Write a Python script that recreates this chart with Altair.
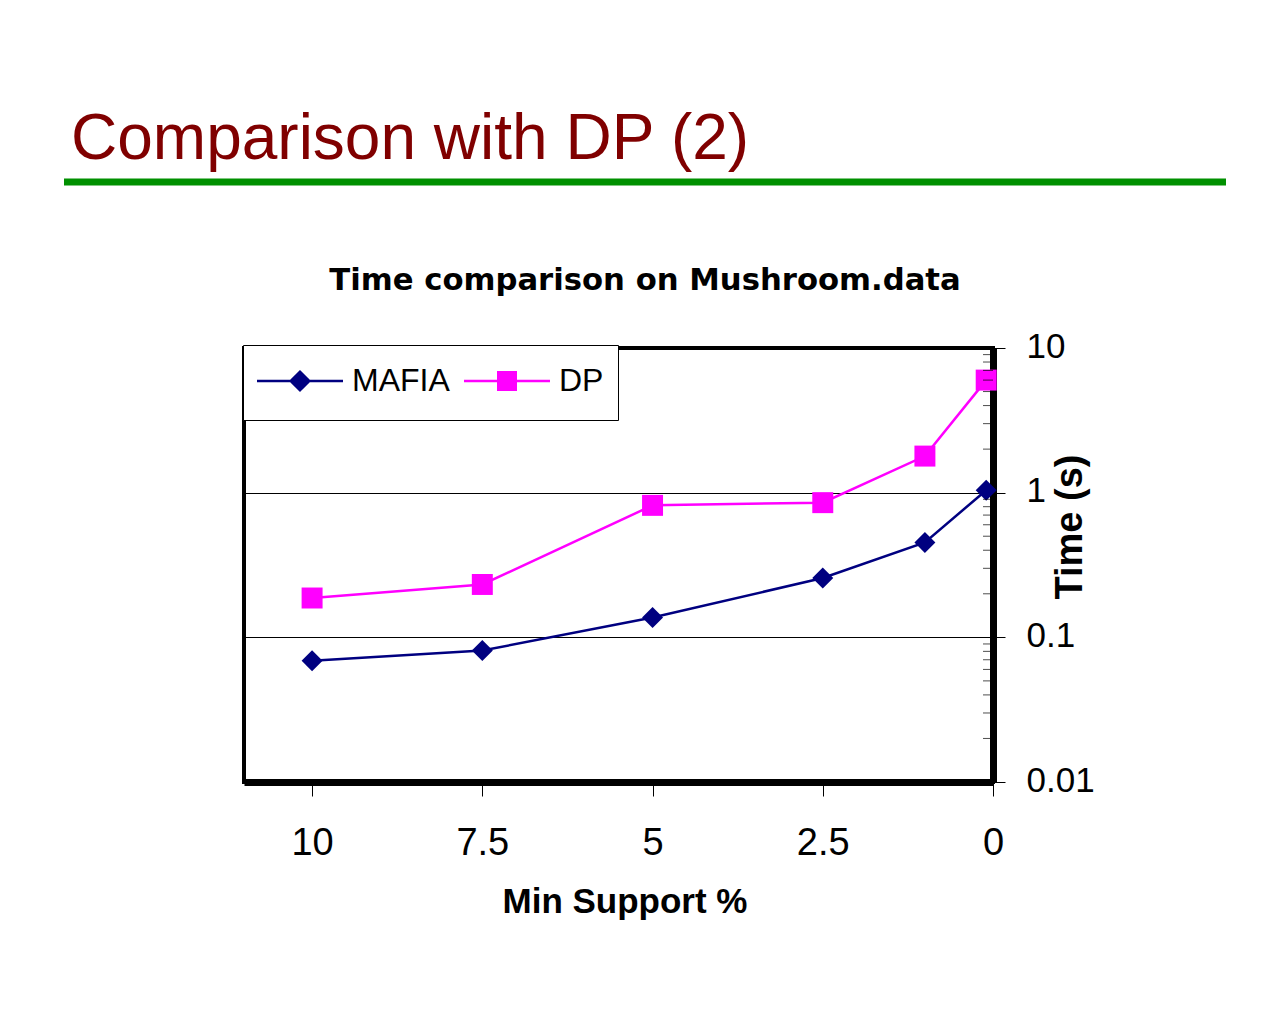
import altair as alt
import pandas as pd

# ---- data ----
support = [10, 7.5, 5, 2.5, 1, 0.1]
mafia = [0.069, 0.081, 0.137, 0.257, 0.453, 1.04]
dp = [0.187, 0.232, 0.817, 0.853, 1.79, 6.0]
series = ["MAFIA", "DP"]
colors = ["#000080", "#FF00FF"]
x_ticks = [10, 7.5, 5, 2.5, 0]
y_ticks = [0.01, 0.1, 1, 10]
minor_ticks = [m * d for d in (0.01, 0.1, 1) for m in range(2, 10)]

slide_title = "Comparison with DP (2)"
chart_title = "Time comparison on Mushroom.data"
x_title = "Min Support %"
y_title = "Time (s)"

df = pd.DataFrame({
    "support": support * 2,
    "time": mafia + dp,
    "series": ["MAFIA"] * len(support) + ["DP"] * len(support),
})
minor_df = pd.DataFrame({"v": minor_ticks})

FONT = "Liberation Sans"
W, H = 749, 434

xscale = alt.Scale(domain=[11, 0], nice=False, zero=False)
yscale = alt.Scale(type="log", domain=[0.01, 10], nice=False)
cscale = alt.Scale(domain=series, range=colors)

x_enc = alt.X("support:Q", scale=xscale,
              axis=alt.Axis(values=x_ticks, format="~g", title=None, orient="bottom",
                            grid=False, domainColor="black", domainWidth=7,
                            tickColor="black", tickSize=14, tickWidth=1,
                            labelFont=FONT, labelFontSize=38, labelColor="black",
                            labelBaseline="alphabetic", labelPadding=58,
                            labelFlush=False, labelOverlap=False))
y_enc = alt.Y("time:Q", scale=yscale,
              axis=alt.Axis(values=y_ticks, format="~g", title=None, orient="right",
                            grid=True, gridColor="black", gridWidth=1, gridOpacity=1,
                            domainColor="black", domainWidth=7,
                            tickColor="black", tickSize=12, tickWidth=1,
                            labelFont=FONT, labelFontSize=35, labelColor="black",
                            labelAlign="left", labelBaseline="middle", labelPadding=21,
                            labelOffset=-2,
                            labelFlush=False, labelOverlap=False))

base = alt.Chart(df)

lines = base.mark_line(strokeWidth=2.5).encode(
    x=x_enc, y=y_enc,
    color=alt.Color("series:N", scale=cscale, legend=None),
    detail="series:N",
)

points = base.mark_point(filled=True, size=440, opacity=1, strokeWidth=0).encode(
    x="support:Q", y="time:Q",
    color=alt.Color("series:N", scale=cscale, legend=None),
    shape=alt.Shape("series:N", scale=alt.Scale(domain=series, range=["diamond", "square"]),
                    legend=None),
)

# legend entries: line with marker (symbol unit = 22px, drawn wider than its slot)
leg_mafia = ("M-1,-0.0545L0.509,-0.0545L0.9545,-0.5L1.4,-0.0545L2.909,-0.0545"
             "L2.909,0.0545L1.4,0.0545L0.9545,0.5L0.509,0.0545L-1,0.0545Z")
leg_dp = ("M-1,-0.0545L0.5,-0.0545L0.5,-0.4545L1.409,-0.4545L1.409,-0.0545"
          "L2.909,-0.0545L2.909,0.0545L1.409,0.0545L1.409,0.4545L0.5,0.4545"
          "L0.5,0.0545L-1,0.0545Z")

legend_layer = base.transform_filter("false").mark_point(
    filled=True, size=1936, opacity=1, strokeWidth=0
).encode(
    x="support:Q", y="time:Q",
    color=alt.Color("series:N", scale=cscale,
                    legend=alt.Legend(title=" ", titleOrient="bottom", titleFontSize=5,
                                      titlePadding=4,
                                      orient="none", legendX=-1, legendY=-3,
                                      direction="horizontal", columns=2,
                                      strokeColor="black", fillColor="white",
                                      padding=14, labelFont=FONT, labelFontSize=32,
                                      labelColor="black", labelOffset=51,
                                      columnPadding=14, symbolSize=1936,
                                      symbolStrokeWidth=0, symbolOpacity=1)),
    shape=alt.Shape("series:N", scale=alt.Scale(domain=series, range=[leg_mafia, leg_dp])),
)

minor = alt.Chart(minor_df).mark_tick(orient="horizontal", thickness=1, size=10,
                                      color="black").encode(
    x=alt.value(744),
    y=alt.Y("v:Q", scale=yscale),
)

# titles and decoration
title_txt = alt.Chart(pd.DataFrame({"t": [slide_title]})).mark_text(
    align="left", baseline="alphabetic", font=FONT, fontSize=64, color="#800000"
).encode(x=alt.value(-173), y=alt.value(-189), text="t:N")

green = alt.Chart(pd.DataFrame({"a": [0]})).mark_rule(
    color="#009000", strokeWidth=7
).encode(x=alt.value(-180), x2=alt.value(982), y=alt.value(-166))

ctitle = alt.Chart(pd.DataFrame({"t": [chart_title]})).mark_text(
    align="center", baseline="alphabetic", font="DejaVu Sans", fontSize=30.7,
    fontWeight="bold", color="black"
).encode(x=alt.value(401), y=alt.value(-58), text="t:N")

xt = alt.Chart(pd.DataFrame({"t": [x_title]})).mark_text(
    align="center", baseline="alphabetic", font=FONT, fontSize=35, fontWeight="bold",
    color="black"
).encode(x=alt.value(381), y=alt.value(565), text="t:N")

yt = alt.Chart(pd.DataFrame({"t": [y_title]})).mark_text(
    align="center", baseline="alphabetic", font=FONT, fontSize=38, fontWeight="bold",
    color="black", angle=270
).encode(x=alt.value(838), y=alt.value(179), text="t:N")

chart = alt.layer(
    lines, points, minor, legend_layer, title_txt, green, ctitle, xt, yt
).resolve_scale(
    color="independent", shape="independent"
).properties(
    width=W, height=H,
    autosize=alt.AutoSizeParams(type="none"),
    padding={"left": 236, "top": 340, "right": 279, "bottom": 230},
    background="white",
).configure_view(
    stroke="black", strokeWidth=4
)

chart.save("out.html", embed_options={"renderer": "svg", "actions": False})
